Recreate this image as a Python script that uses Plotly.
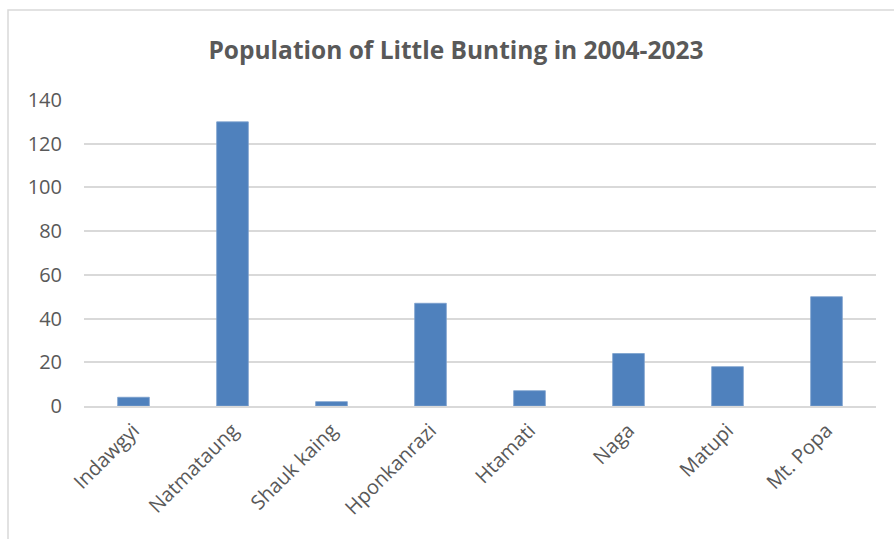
import plotly.graph_objects as go

# Little Bunting counts per site, 2004-2023
sites = ["Indawgyi", "Natmataung", "Shauk kaing", "Hponkanrazi",
         "Htamati", "Naga", "Matupi", "Mt. Popa"]
counts = [4, 130, 2, 47, 7, 24, 18, 50]
y_ticks = [0, 20, 40, 60, 80, 100, 120, 140]

W, H = 894, 539
L, R, T, B = 84, 18, 100, 133
pw, ph = W - L - R, H - T - B

def px_x(x):
    return (x - L) / pw

fig = go.Figure(go.Bar(
    x=sites, y=counts,
    marker=dict(color="#4F81BD", line=dict(color="#7BA0CD", width=0.8)),
    width=0.32,
))

grey = "#595959"
fig.update_layout(
    width=W, height=H,
    margin=dict(l=L, r=R, t=T, b=B),
    paper_bgcolor="white", plot_bgcolor="white",
    font=dict(family="Open Sans, sans-serif", color=grey, size=20),
    title=dict(text="<b>Population of Little Bunting in 2004-2023</b>",
               x=px_x(456), xref="paper", xanchor="center",
               y=1 - 50 / H, yanchor="middle",
               font=dict(size=24.5, color=grey)),
    showlegend=False,
    bargap=0.68,
)
fig.update_xaxes(tickangle=-45, showgrid=False, showline=True,
                 linecolor="#D9D9D9", linewidth=1.5, ticks="",
                 ticklabelstandoff=3,
                 tickfont=dict(size=20, color=grey))
fig.update_yaxes(range=[0, 140], tickvals=y_ticks, showgrid=True,
                 gridcolor="#D9D9D9", gridwidth=1.5, zeroline=False,
                 showline=False, ticks="", ticklabelstandoff=21,
                 tickfont=dict(size=20, color=grey))

# chart-area frame (top and left edges visible)
x0, x1 = px_x(8), px_x(W + 2)
y0, y1 = (H - B - (H + 2)) / ph, (H - B - 10) / ph
fig.add_shape(type="rect", xref="paper", yref="paper",
              x0=x0, x1=x1, y0=y0, y1=y1,
              line=dict(color="#D9D9D9", width=1.5), layer="below")

fig.write_html("out.html")
